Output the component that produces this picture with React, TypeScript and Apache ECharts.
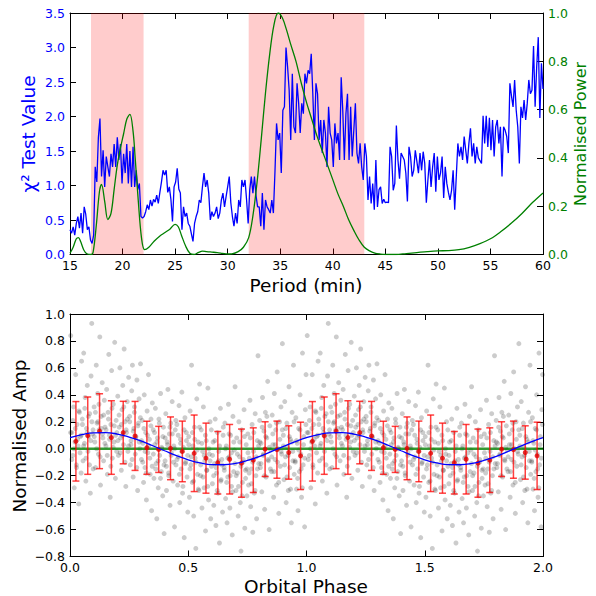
import React, { useEffect, useRef } from "react";
import * as echarts from "echarts";

// ---------- Top panel data ----------
const CHI_START = 15;
const CHI_STEP = 0.15;
const chiValues = [
  0.36, 0.31, 0.40, 0.28, 0.45, 0.55, 0.38, 0.60, 0.31, 0.69, 0.58, 0.36, 0.40, 0.21, 0.16, 0.28,
  1.27, 1.05, 1.70, 1.97, 1.13, 1.51, 0.98, 1.42, 1.27, 1.13, 1.46, 1.27, 1.60, 1.27, 1.70, 1.37,
  1.60, 1.03, 1.46, 1.18, 1.60, 1.03, 1.50, 0.98, 1.56, 0.98, 1.22, 0.94, 1.03, 0.55,
  0.53, 0.55, 0.62, 0.72, 0.65, 0.79, 0.70, 0.80, 0.76, 0.86, 0.74, 0.90, 1.05, 1.22, 1.15, 1.22,
  0.90, 0.98, 0.80, 0.48, 0.98, 1.05, 1.25, 0.95, 0.89, 0.36, 0.69, 0.55, 0.60, 0.45, 0.41, 0.30,
  0.19, 0.45, 0.55, 0.62, 0.79, 0.75, 0.98, 1.18, 0.98, 1.08, 0.89, 0.50, 0.62, 0.55, 0.60, 0.69,
  0.52, 0.60, 0.79, 0.89, 0.69, 0.84, 0.98, 1.13, 0.75, 0.55, 0.41, 0.60, 0.45, 0.79, 0.69, 1.08,
  0.98, 1.08, 0.79, 0.45, 0.94, 1.13, 0.89, 1.13, 0.85, 0.69, 0.69, 0.41, 0.89, 0.36, 0.79, 0.69,
  0.65, 0.60, 0.79, 0.60, 1.20, 1.90, 1.66, 1.76, 1.18, 2.09, 2.14, 3.00, 2.72, 2.38, 1.66, 2.62,
  1.85, 1.76, 2.48,
  2.20, 1.76, 2.19, 2.04, 2.62, 2.48, 2.67, 2.62, 2.91, 2.33, 1.66, 2.48, 2.33, 1.66, 1.95, 1.47,
  1.95, 1.76, 1.27, 2.14, 1.76, 1.66, 1.27, 1.90, 1.61, 1.76, 1.37, 2.57, 2.09, 1.37, 2.04, 2.33,
  1.37, 2.14, 1.42, 1.80, 2.19, 1.47, 1.32, 1.61, 1.27, 1.08, 1.61, 1.42, 0.79, 1.13, 0.74, 1.03,
  0.65, 1.37, 0.69, 0.94, 0.98, 0.74, 0.80,
  0.75, 0.76, 0.75, 1.56, 1.42, 0.93, 1.03, 1.87, 1.37, 1.10, 1.47, 1.42, 1.37, 1.18, 0.77, 1.56,
  1.42, 1.13, 1.22, 1.51, 1.35, 1.18, 1.47, 1.22, 1.49, 1.32, 0.75, 1.08, 1.37, 0.98, 1.27, 1.47,
  0.91, 1.42, 1.08, 1.18, 1.42, 0.82, 1.27, 1.03, 0.90, 0.79, 0.93, 1.22, 0.65, 1.13, 1.61, 1.42,
  1.56, 1.37, 1.71, 1.51, 1.32, 1.61, 1.83, 1.42, 1.61, 1.32, 1.56, 1.40, 1.36, 1.32, 2.01, 1.61,
  2.01, 1.56, 1.98, 1.51, 1.95, 1.42, 1.85, 1.95, 1.61, 1.85, 1.13, 1.85, 1.80, 1.71, 1.47, 2.48,
  2.30, 2.14, 2.53, 2.09, 1.85, 1.32, 2.14, 1.98, 2.24, 1.95, 2.19, 2.53, 2.33, 2.38, 3.02, 2.14,
  2.72, 3.15, 1.98, 2.77, 2.40,
];

const powerPeriod = [
  15.0, 15.3, 15.6, 15.8, 16.0, 16.3, 16.6, 17.0, 17.2, 17.5, 17.8, 18.0, 18.3, 18.6, 18.9, 19.2,
  19.5, 19.8, 20.1, 20.4, 20.7, 21.0, 21.2, 21.5, 21.8, 22.1, 22.5, 23.0, 23.5, 24.0, 24.5, 25.0,
  25.3, 25.6, 26.0, 26.4, 26.8, 27.2, 27.6, 28.0, 28.5, 29.0, 29.5, 30.0, 30.4, 31.0, 31.5, 32.0,
  32.4, 32.8, 33.2, 33.6, 34.0, 34.4, 34.8, 35.2, 35.6, 36.0, 36.5, 37.0, 37.5, 38.0, 38.5, 39.0,
  39.5, 40.0, 40.5, 41.0, 41.5, 42.0, 42.5, 43.0, 43.5, 44.0, 44.5, 45.0, 46.0, 47.0, 48.0, 49.0,
  50.0, 51.0, 52.0, 53.0, 54.0, 55.0, 56.0, 57.0, 58.0, 59.0, 60.0,
];
const powerValue = [
  0.005, 0.03, 0.065, 0.07, 0.055, 0.02, 0.003, 0.0, 0.01, 0.12, 0.26, 0.29, 0.22, 0.145, 0.17, 0.27,
  0.37, 0.44, 0.5, 0.56, 0.58, 0.51, 0.4, 0.22, 0.07, 0.02, 0.03, 0.055, 0.075, 0.09, 0.105, 0.125,
  0.115, 0.08, 0.035, 0.005, 0.0, 0.008, 0.014, 0.012, 0.01, 0.008, 0.005, 0.002, 0.003, 0.012, 0.03, 0.07,
  0.16, 0.3, 0.48, 0.67, 0.83, 0.95, 1.0, 0.98, 0.93, 0.87, 0.8, 0.71, 0.63, 0.56, 0.49, 0.43,
  0.37, 0.31, 0.25, 0.2, 0.145, 0.1, 0.06, 0.03, 0.015, 0.006, 0.002, 0.0, 0.0, 0.004, 0.008, 0.012,
  0.015, 0.016, 0.02, 0.03, 0.045, 0.065, 0.095, 0.13, 0.17, 0.215, 0.255,
];

const highlightRanges = [
  [17, 22],
  [32, 43],
];

// ---------- Bottom panel data ----------
const binPhase = [
  0.025, 0.075, 0.125, 0.175, 0.225, 0.275, 0.325, 0.375, 0.425, 0.475,
  0.525, 0.575, 0.625, 0.675, 0.725, 0.775, 0.825, 0.875, 0.925, 0.975,
];
const binMean = [
  0.055, 0.097, 0.13, 0.083, 0.12, 0.095, 0.007, -0.005, 0.003, -0.02,
  -0.034, -0.07, -0.104, -0.078, -0.107, -0.085, -0.003, -0.007, -0.028, -0.053,
];
const binErr = [
  0.295, 0.287, 0.278, 0.273, 0.232, 0.256, 0.197, 0.171, 0.233, 0.225,
  0.284, 0.26, 0.232, 0.258, 0.253, 0.24, 0.203, 0.212, 0.198, 0.25,
];

const fitPhase = [
  0.0, 0.05, 0.1, 0.15, 0.2, 0.25, 0.3, 0.35, 0.4, 0.45,
  0.5, 0.55, 0.6, 0.65, 0.7, 0.75, 0.8, 0.85, 0.9, 0.95,
];
const fitAmp = [
  0.082, 0.105, 0.118, 0.119, 0.109, 0.087, 0.058, 0.022, -0.015, -0.051,
  -0.082, -0.105, -0.118, -0.119, -0.109, -0.087, -0.058, -0.022, 0.015, 0.051,
];

// individual folded measurements (one cycle; repeated for phase 1-2)
const scatterCycle = [
  [0.003,0.84],[0.008,0.12],[0.012,-0.05],[0.015,0.31],[0.018,-0.29],[0.021,0.05],[0.024,0.55],[0.027,-0.12],[0.03,0.18],[0.034,0.02],[0.037,-0.41],[0.04,0.27],[0.044,0.09],[0.047,-0.18],[0.049,0.65],
  [0.052,0.22],[0.055,-0.09],[0.058,0.71],[0.061,0.04],[0.064,0.38],[0.067,-0.24],[0.07,0.15],[0.073,0.47],[0.076,-0.02],[0.079,0.09],[0.083,0.26],[0.086,-0.33],[0.089,0.54],[0.092,0.93],[0.095,0.11],[0.098,-0.15],
  [0.102,0.31],[0.105,0.05],[0.108,-0.14],[0.111,0.62],[0.114,0.19],[0.117,0.41],[0.12,-0.04],[0.123,0.14],[0.126,0.83],[0.129,-0.27],[0.132,0.24],[0.136,0.49],[0.139,0.08],[0.142,-0.09],[0.145,0.36],[0.148,0.16],
  [0.152,0.02],[0.155,0.44],[0.158,-0.19],[0.161,0.27],[0.164,0.7],[0.167,0.1],[0.17,-0.36],[0.173,0.18],[0.176,0.58],[0.179,-0.07],[0.183,0.33],[0.186,0.05],[0.189,0.79],[0.192,-0.22],[0.195,0.21],[0.198,0.12],
  [0.202,0.39],[0.205,-0.05],[0.208,0.16],[0.211,0.6],[0.214,0.08],[0.217,-0.16],[0.22,0.29],[0.223,0.47],[0.226,0.03],[0.229,0.74],[0.232,0.2],[0.236,-0.28],[0.239,0.12],[0.242,0.35],[0.245,-0.02],[0.248,0.53],
  [0.252,0.24],[0.255,-0.12],[0.258,0.06],[0.261,0.43],[0.264,0.62],[0.267,-0.21],[0.27,0.15],[0.273,0.31],[0.276,-0.04],[0.279,0.09],[0.283,0.51],[0.286,-0.31],[0.289,0.19],[0.292,0.37],[0.295,0.0],[0.298,0.63],
  [0.302,-0.08],[0.305,0.21],[0.308,0.04],[0.311,-0.25],[0.314,0.4],[0.317,-0.14],[0.32,0.12],[0.323,-0.38],[0.326,0.28],[0.329,-0.03],[0.332,0.55],[0.336,0.07],[0.339,-0.19],[0.342,0.17],[0.345,-0.46],[0.348,0.34],
  [0.352,0.14],[0.355,-0.22],[0.358,0.03],[0.361,0.3],[0.364,-0.11],[0.367,-0.52],[0.37,0.08],[0.373,-0.29],[0.376,0.22],[0.379,-0.05],[0.383,0.41],[0.386,-0.17],[0.389,0.0],[0.392,-0.35],[0.395,0.16],[0.398,-0.63],
  [0.402,-0.09],[0.405,0.26],[0.408,-0.31],[0.411,0.05],[0.414,0.44],[0.417,-0.18],[0.42,0.11],[0.423,-0.42],[0.426,0.19],[0.429,-0.03],[0.432,0.35],[0.436,-0.24],[0.439,0.02],[0.442,-0.58],[0.445,0.14],[0.448,-0.12],
  [0.452,0.18],[0.455,-0.27],[0.458,-0.06],[0.461,0.32],[0.464,-0.4],[0.467,0.07],[0.47,-0.15],[0.473,0.42],[0.476,-0.33],[0.479,0.01],[0.483,-0.66],[0.486,0.23],[0.489,-0.1],[0.492,0.12],[0.495,-0.21],[0.498,-0.47],
  [0.502,0.09],[0.505,-0.36],[0.508,0.28],[0.511,-0.12],[0.514,0.62],[0.517,-0.25],[0.52,0.02],[0.523,-0.5],[0.526,0.16],[0.529,-0.07],[0.532,-0.74],[0.536,0.37],[0.539,-0.19],[0.542,0.05],[0.545,-0.31],[0.548,0.48],
  [0.552,-0.2],[0.555,0.14],[0.558,-0.44],[0.561,-0.02],[0.564,0.31],[0.567,-0.29],[0.57,-0.09],[0.573,-0.61],[0.576,0.06],[0.579,-0.16],[0.583,0.45],[0.586,-0.38],[0.589,-0.04],[0.592,0.2],[0.595,-0.52],[0.598,-0.13],
  [0.602,-0.26],[0.605,0.05],[0.608,-0.42],[0.611,-0.11],[0.614,0.22],[0.617,-0.57],[0.62,-0.18],[0.623,0.12],[0.626,-0.33],[0.629,-0.02],[0.632,-0.7],[0.636,0.3],[0.639,-0.23],[0.642,-0.08],[0.645,-0.47],[0.648,0.16],
  [0.652,-0.14],[0.655,0.19],[0.658,-0.37],[0.661,0.02],[0.664,-0.55],[0.667,-0.21],[0.67,0.33],[0.673,-0.06],[0.676,-0.44],[0.679,0.1],[0.683,-0.28],[0.686,-0.64],[0.689,0.24],[0.692,-0.17],[0.695,-0.01],[0.698,0.46],
  [0.702,-0.31],[0.705,0.08],[0.708,-0.18],[0.711,-0.5],[0.714,0.2],[0.717,-0.06],[0.72,-0.4],[0.723,-0.76],[0.726,0.14],[0.729,-0.25],[0.732,-0.1],[0.736,0.29],[0.739,-0.59],[0.742,-0.16],[0.745,0.03],[0.748,-0.35],
  [0.752,0.11],[0.755,-0.27],[0.758,-0.07],[0.761,0.36],[0.764,-0.43],[0.767,-0.15],[0.77,0.18],[0.773,-0.62],[0.776,-0.02],[0.779,-0.33],[0.783,0.26],[0.786,-0.2],[0.789,-0.52],[0.792,0.06],[0.795,0.69],[0.798,-0.11],
  [0.802,0.21],[0.805,-0.14],[0.808,0.04],[0.811,-0.32],[0.814,0.38],[0.817,-0.05],[0.82,0.13],[0.823,-0.45],[0.826,0.27],[0.829,-0.21],[0.832,0.08],[0.836,0.5],[0.839,-0.09],[0.842,-0.6],[0.845,0.17],[0.848,-0.01],
  [0.852,-0.17],[0.855,0.25],[0.858,0.03],[0.861,-0.36],[0.864,0.41],[0.867,-0.08],[0.87,0.14],[0.873,-0.27],[0.876,0.57],[0.879,0.0],[0.883,-0.48],[0.886,0.2],[0.889,-0.13],[0.892,0.31],[0.895,-0.04],[0.898,0.78],
  [0.902,0.1],[0.905,-0.23],[0.908,0.35],[0.911,-0.06],[0.914,-0.4],[0.917,0.19],[0.92,0.01],[0.923,-0.31],[0.926,0.46],[0.929,-0.14],[0.932,0.07],[0.936,-0.55],[0.939,0.27],[0.942,-0.02],[0.945,0.62],[0.948,-0.19],
  [0.952,-0.09],[0.955,0.23],[0.958,-0.3],[0.961,0.04],[0.964,-0.46],[0.967,0.15],[0.97,-0.17],[0.973,0.4],[0.976,-0.04],[0.979,-0.36],[0.983,0.71],[0.986,-0.12],[0.989,0.09],[0.992,-0.58],[0.995,0.29],[0.998,0.55],
];

// denser core of measurements near each bin mean (10 per bin)
const coreAmp = [
  [0.12, -0.08, 0.21, 0.0, 0.15, -0.14, 0.07, 0.28, -0.03, 0.1],
  [0.18, 0.02, 0.3, -0.07, 0.12, 0.24, -0.12, 0.06, 0.2, 0.14],
  [0.09, 0.27, 0.0, 0.2, 0.33, -0.06, 0.15, 0.11, 0.25, 0.04],
  [0.14, -0.05, 0.22, 0.07, -0.13, 0.3, 0.01, 0.17, 0.1, -0.02],
  [0.06, 0.25, -0.03, 0.18, 0.1, 0.31, -0.1, 0.14, 0.22, 0.02],
  [0.2, 0.03, -0.08, 0.13, 0.27, 0.08, -0.14, 0.17, 0.05, 0.23],
  [0.06, -0.1, 0.15, -0.02, -0.18, 0.1, 0.02, -0.07, 0.22, -0.13],
  [-0.04, 0.12, -0.15, 0.05, -0.09, 0.19, -0.22, 0.01, 0.09, -0.12],
  [0.08, -0.13, 0.03, -0.2, 0.16, -0.05, 0.11, -0.1, 0.0, 0.21],
  [-0.08, 0.1, -0.19, 0.04, -0.02, -0.28, 0.14, -0.11, 0.06, -0.05],
  [0.03, -0.15, -0.06, 0.12, -0.24, 0.07, -0.1, -0.01, -0.3, 0.16],
  [-0.12, 0.04, -0.21, -0.05, 0.1, -0.16, -0.28, 0.0, -0.09, 0.14],
  [-0.05, -0.2, 0.06, -0.14, -0.31, -0.09, 0.02, -0.24, -0.12, 0.1],
  [-0.16, 0.0, -0.25, -0.07, 0.11, -0.2, -0.03, -0.32, 0.05, -0.11],
  [-0.2, -0.04, -0.28, 0.05, -0.13, -0.35, -0.08, 0.09, -0.22, -0.15],
  [-0.03, -0.18, 0.08, -0.26, -0.1, 0.12, -0.31, -0.06, -0.15, 0.02],
  [0.05, -0.11, 0.16, -0.04, -0.2, 0.09, 0.24, -0.08, 0.01, -0.15],
  [-0.06, 0.11, -0.17, 0.03, 0.19, -0.1, -0.25, 0.07, -0.02, 0.14],
  [0.02, -0.12, 0.15, -0.21, -0.05, 0.09, -0.3, 0.05, -0.09, 0.2],
  [-0.1, 0.06, -0.22, -0.01, 0.14, -0.15, -0.29, 0.03, -0.07, 0.18],
];

const CYCLES = [0, 1];

// ---------- Build series data ----------
const chiData = chiValues.map((v, i) => [CHI_START + i * CHI_STEP, v]);
const powerData = powerPeriod.map((p, i) => [p, powerValue[i]]);
const corePairs = coreAmp.flatMap((row, k) =>
  row.map((y, j) => [binPhase[k] - 0.0225 + j * 0.005, y])
);
const scatterData = CYCLES.flatMap((c) =>
  [...scatterCycle, ...corePairs].map(([x, y]) => [x + c, y])
);
const binData = CYCLES.flatMap((c) => binPhase.map((x, i) => [x + c, binMean[i], binErr[i]]));
const binPoints = binData.map((d) => [d[0], d[1]]);
const fitData = [
  ...CYCLES.flatMap((c) => fitPhase.map((x, i) => [x + c, fitAmp[i]])),
  [2, fitAmp[0]],
];
const zeroLine = [
  [0, 0],
  [2, 0],
];

const FONT = "DejaVu Sans";

const fmt1 = (v: number) => {
  if (Math.abs(v) < 1e-9) return "0.0";
  return (v < 0 ? "\u2212" : "") + Math.abs(v).toFixed(1);
};

const spine = { show: true, onZero: false, lineStyle: { color: "#000", width: 1 } };
const tick = { show: true, inside: true, length: 6, lineStyle: { color: "#000", width: 1 } };

function xAx(gridIndex: number, position: string, min: number, max: number, interval: number, labels: boolean, formatter?: any) {
  return {
    type: "value",
    gridIndex,
    position,
    min,
    max,
    interval,
    axisLine: spine,
    axisTick: tick,
    splitLine: { show: false },
    axisLabel: {
      show: labels,
      color: "#000",
      fontSize: 12.5,
      fontFamily: FONT,
      margin: 4,
      formatter,
    },
  };
}

function yAx(gridIndex: number, position: string, min: number, max: number, interval: number, labels: boolean, color: string) {
  return {
    type: "value",
    gridIndex,
    position,
    min,
    max,
    interval,
    axisLine: spine,
    axisTick: tick,
    splitLine: { show: false },
    axisLabel: {
      show: labels,
      color,
      fontSize: 12.5,
      fontFamily: FONT,
      margin: 5,
      formatter: fmt1,
    },
  };
}

const nameStyle = (text: string, color: string, size: number) => ({
  text,
  fill: color,
  font: `${size}px "${FONT}"`,
  align: "center",
  verticalAlign: "middle",
});

const option: any = {
  animation: false,
  backgroundColor: "#fff",
  tooltip: { show: false },
  grid: [
    { left: 70, right: 53, top: 13, height: 241.5 },
    { left: 70, right: 53, top: 314, height: 242.5 },
  ],
  xAxis: [
    xAx(0, "bottom", 15, 60, 5, true, (v: number) => String(v)),
    xAx(0, "top", 15, 60, 5, false),
    xAx(1, "bottom", 0, 2, 0.5, true, fmt1),
    xAx(1, "top", 0, 2, 0.5, false),
  ],
  yAxis: [
    yAx(0, "left", 0, 3.5, 0.5, true, "#0000ff"),
    yAx(0, "right", 0, 1, 0.2, true, "#008000"),
    yAx(1, "left", -0.8, 1.0, 0.2, true, "#000"),
    yAx(1, "right", -0.8, 1.0, 0.2, false, "#000"),
  ],
  graphic: [
    { type: "text", x: 306, y: 285, style: nameStyle("Period (min)", "#000", 18.5) },
    { type: "text", x: 28, y: 134, rotation: Math.PI / 2, style: nameStyle("\u03c7\u00b2 Test Value", "#0000ff", 18.5) },
    { type: "text", x: 580, y: 134, rotation: Math.PI / 2, style: nameStyle("Normalised Power", "#008000", 16) },
    { type: "text", x: 19, y: 436, rotation: Math.PI / 2, style: nameStyle("Normalised Amp", "#000", 18.5) },
    { type: "text", x: 306, y: 586, style: nameStyle("Orbital Phase", "#000", 18.5) },
  ],
  series: [
    {
      type: "line",
      xAxisIndex: 0,
      yAxisIndex: 0,
      data: [],
      z: 1,
      silent: true,
      markArea: {
        silent: true,
        itemStyle: { color: "rgba(255,0,0,0.2)" },
        data: highlightRanges.map(([a, b]) => [{ xAxis: a }, { xAxis: b }]),
      },
    },
    {
      type: "line",
      xAxisIndex: 0,
      yAxisIndex: 0,
      data: chiData,
      showSymbol: false,
      symbol: "none",
      z: 3,
      lineStyle: { color: "#0000ff", width: 1.3 },
    },
    {
      type: "line",
      xAxisIndex: 0,
      yAxisIndex: 1,
      data: powerData,
      smooth: 0.35,
      showSymbol: false,
      symbol: "none",
      z: 4,
      lineStyle: { color: "#008000", width: 1.3 },
    },
    {
      type: "scatter",
      xAxisIndex: 2,
      yAxisIndex: 2,
      data: scatterData,
      symbolSize: 5,
      silent: true,
      z: 2,
      itemStyle: { color: "rgba(0,0,0,0.25)" },
    },
    {
      type: "line",
      xAxisIndex: 2,
      yAxisIndex: 2,
      data: zeroLine,
      showSymbol: false,
      symbol: "none",
      z: 3,
      lineStyle: { color: "rgba(0,128,0,0.8)", width: 2.5 },
    },
    {
      type: "custom",
      xAxisIndex: 2,
      yAxisIndex: 2,
      data: binData,
      z: 4,
      silent: true,
      encode: { x: 0, y: 1 },
      renderItem: (params: any, api: any) => {
        const x = api.value(0);
        const m = api.value(1);
        const e = api.value(2);
        const top = api.coord([x, m + e]);
        const bot = api.coord([x, m - e]);
        const st = { stroke: "rgba(255,0,0,0.75)", lineWidth: 1.5 };
        const cw = 3.5;
        return {
          type: "group",
          children: [
            { type: "line", shape: { x1: top[0], y1: top[1], x2: bot[0], y2: bot[1] }, style: st },
            { type: "line", shape: { x1: top[0] - cw, y1: top[1], x2: top[0] + cw, y2: top[1] }, style: st },
            { type: "line", shape: { x1: bot[0] - cw, y1: bot[1], x2: bot[0] + cw, y2: bot[1] }, style: st },
          ],
        };
      },
    },
    {
      type: "scatter",
      xAxisIndex: 2,
      yAxisIndex: 2,
      data: binPoints,
      symbolSize: 5,
      z: 5,
      itemStyle: { color: "#e00000" },
    },
    {
      type: "line",
      xAxisIndex: 2,
      yAxisIndex: 2,
      data: fitData,
      smooth: true,
      showSymbol: false,
      symbol: "none",
      z: 6,
      lineStyle: { color: "#0000ff", width: 1.3 },
    },
  ],
};

export default function App() {
  const ref = useRef<HTMLDivElement>(null);
  useEffect(() => {
    document.body.style.margin = "0";
    if (!ref.current) return;
    const chart = echarts.init(ref.current, null, { renderer: "svg" });
    chart.setOption(option);
    return () => chart.dispose();
  }, []);
  return <div ref={ref} style={{ width: 596, height: 596, background: "#fff" }} />;
}
